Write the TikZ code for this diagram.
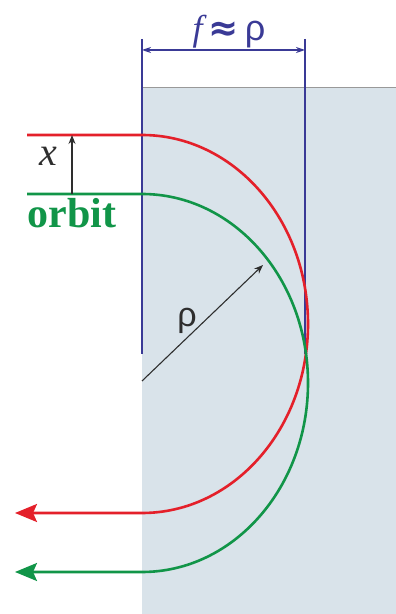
\documentclass[tikz,border=0pt]{standalone}
\usepackage{fontspec}
\setmainfont{Liberation Serif}
\newfontfamily\greekfont{Liberation Sans}
\newfontfamily\serifital{Liberation Serif Italic}
\newfontfamily\symfont{DejaVu Sans}
\usetikzlibrary{arrows.meta}
\definecolor{bgfill}{HTML}{D9E3EA}
\definecolor{dimblue}{HTML}{3A3A96}
\definecolor{orbred}{HTML}{E4202A}
\definecolor{orbgreen}{HTML}{119548}
\definecolor{darkgr}{HTML}{2E2E2E}
\tikzset{
  dimline/.style={draw=dimblue, line width=1.1pt},
  dimarrow/.style={dimline, {Stealth[length=9pt,width=6pt]}-{Stealth[length=9pt,width=6pt]}},
  orbitpath/.style={line width=2.6pt, line cap=butt, -{Stealth[length=22pt,width=18pt,inset=4pt]}},
  blackarrow/.style={draw=darkgr, line width=1.1pt, -{Stealth[length=9pt,width=7pt]}},
}
\begin{document}
\begin{tikzpicture}[x=1pt,y=1pt]
\useasboundingbox (0,0) rectangle (396,614);
% field region
\fill[bgfill] (142,0) rectangle (396,527);
\draw[black!40, line width=0.6pt] (142,527) -- (396,527);
% dimension lines
\coordinate (lt) at (142,575);
\coordinate (lb) at (142,260);
\coordinate (rt) at (305,575);
\coordinate (rb) at (305,260);
\coordinate (dl) at (142,564);
\coordinate (dr) at (305,564);
\draw[dimline] (lt) -- (lb);
\draw[dimline] (rt) -- (rb);
\draw[dimarrow] (dl) -- (dr);
\node[text=dimblue, anchor=base, inner sep=0pt, font=\fontsize{36}{40}\selectfont] (flabel) at (229,573) {{\serifital f}\,{\symfont\bfseries ≈}\,{\greekfont ρ}};
% orbits
\coordinate (rs) at (27,479);
\coordinate (re) at (142,479);
\coordinate (rend) at (15,101);
\coordinate (gs) at (27,420);
\coordinate (ge) at (142,420);
\coordinate (gend) at (15,42);
\draw[orbitpath, draw=orbred, color=orbred] (rs) -- (re) arc[start angle=90, end angle=-90, x radius=166, y radius=189] -- (rend);
\draw[orbitpath, draw=orbgreen, color=orbgreen] (gs) -- (ge) arc[start angle=90, end angle=-90, x radius=166, y radius=189] -- (gend);
% x offset
\coordinate (xa) at (72,420);
\coordinate (xb) at (72,479);
\draw[blackarrow] (xa) -- (xb);
\node[text=darkgr, inner sep=0pt, font=\fontsize{40}{44}\selectfont\serifital] (xlabel) at (48,458) {x};
\node[text=orbgreen, anchor=base, inner sep=0pt, font=\fontsize{42}{44}\selectfont\bfseries] (orbitlabel) at (72,386) {orbit};
% radius
\coordinate (cen) at (142,233);
\coordinate (rad) at (263,349);
\draw[blackarrow] (cen) -- (rad);
\node[text=darkgr, inner sep=0pt, font=\fontsize{34}{38}\selectfont\greekfont] (rholabel) at (187,293) {ρ};
\end{tikzpicture}
\end{document}
